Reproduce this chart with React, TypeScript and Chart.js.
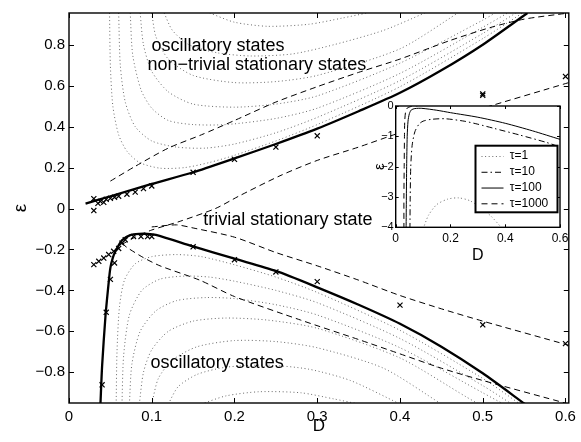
import React, { useEffect, useRef } from "react";
import { Chart, registerables } from "chart.js";

Chart.register(...registerables);

type P = [number, number];
const FONT = '"Liberation Sans", Arial, Helvetica, sans-serif';

// ---------- ticks ----------
const xTicks = [0, 0.1, 0.2, 0.3, 0.4, 0.5, 0.6];
const yTicks = [-0.8, -0.6, -0.4, -0.2, 0, 0.2, 0.4, 0.6, 0.8];
const insetXTicks = [0, 0.2, 0.4, 0.6];
const insetYTicks = [-4, -3, -2, -1, 0];

// ---------- main chart: thick boundaries ----------
const upperSolid: P[] = [
  [0.02, 0.024], [0.05, 0.06], [0.1, 0.12], [0.15, 0.177], [0.2, 0.245], [0.25, 0.315],
  [0.3, 0.39], [0.35, 0.475], [0.4, 0.565], [0.45, 0.675], [0.5, 0.8], [0.554, 0.955],
];
const lowerSolid: P[] = [
  [0.038, -0.955], [0.04, -0.77], [0.044, -0.53], [0.048, -0.36], [0.05, -0.29], [0.053, -0.24],
  [0.056, -0.21], [0.064, -0.155], [0.074, -0.13], [0.085, -0.124], [0.095, -0.124], [0.105, -0.129],
  [0.15, -0.185], [0.2, -0.245], [0.25, -0.305], [0.3, -0.385], [0.35, -0.47], [0.4, -0.563],
  [0.45, -0.675], [0.5, -0.805], [0.551, -0.955],
];

// ---------- main chart: crosses ----------
const upperCrosses: P[] = [
  [0.03, 0.048], [0.03, -0.01], [0.035, 0.025], [0.038, 0.035], [0.042, 0.03], [0.045, 0.045],
  [0.05, 0.05], [0.055, 0.055], [0.06, 0.06], [0.07, 0.07], [0.08, 0.08], [0.09, 0.097],
  [0.1, 0.11], [0.15, 0.177], [0.2, 0.24], [0.25, 0.3], [0.3, 0.355], [0.5, 0.56], [0.5, 0.553],
  [0.6, 0.645],
];
const lowerCrosses: P[] = [
  [0.03, -0.274], [0.036, -0.258], [0.042, -0.242], [0.048, -0.225], [0.054, -0.209], [0.06, -0.195],
  [0.04, -0.861], [0.045, -0.507], [0.05, -0.346], [0.055, -0.266], [0.064, -0.169], [0.068, -0.153],
  [0.078, -0.137], [0.087, -0.137], [0.095, -0.137], [0.1, -0.137], [0.15, -0.187], [0.2, -0.25],
  [0.25, -0.31], [0.3, -0.357], [0.4, -0.472], [0.5, -0.568], [0.6, -0.66],
];

// ---------- main chart: dashed curves ----------
const dashedUpperA: P[] = [
  [0.05, 0.134], [0.08, 0.206], [0.12, 0.295], [0.16, 0.36], [0.2, 0.43], [0.25, 0.52],
  [0.3, 0.595], [0.35, 0.665], [0.4, 0.73], [0.46, 0.82], [0.51, 0.885], [0.55, 0.925], [0.604, 0.955],
];
const dashedUpperB: P[] = [
  [0.064, -0.175], [0.08, -0.14], [0.1, -0.105], [0.133, -0.064], [0.177, 0.0], [0.205, 0.06],
  [0.255, 0.16], [0.3, 0.235], [0.35, 0.3], [0.4, 0.37], [0.5, 0.49], [0.604, 0.615],
];
const dashedLowerA: P[] = [
  [0.1, -0.09], [0.13, -0.08], [0.15, -0.095], [0.2, -0.14], [0.25, -0.215], [0.3, -0.28],
  [0.35, -0.35], [0.4, -0.425], [0.45, -0.49], [0.5, -0.55], [0.604, -0.668],
];
const dashedLowerB: P[] = [
  [0.064, -0.17], [0.07, -0.19], [0.09, -0.24], [0.11, -0.28], [0.158, -0.35], [0.2, -0.43],
  [0.28, -0.545], [0.35, -0.64], [0.4, -0.71], [0.45, -0.78], [0.5, -0.84], [0.604, -0.955],
];

// ---------- main chart: dotted contours ----------
const dottedU1: P[] = [[0.049, 0.955], [0.05, 0.7], [0.053, 0.5], [0.06, 0.36], [0.07, 0.28], [0.085, 0.225], [0.11, 0.197], [0.14, 0.2], [0.17, 0.225], [0.2, 0.26], [0.25, 0.33], [0.3, 0.41], [0.4, 0.595], [0.5, 0.83], [0.548, 0.955]];
const dottedU2: P[] = [[0.06, 0.955], [0.062, 0.7], [0.068, 0.52], [0.08, 0.4], [0.1, 0.33], [0.13, 0.3], [0.165, 0.295], [0.2, 0.315], [0.25, 0.37], [0.3, 0.445], [0.4, 0.625], [0.5, 0.855], [0.54, 0.955]];
const dottedU3: P[] = [[0.074, 0.955], [0.077, 0.75], [0.087, 0.58], [0.1, 0.49], [0.12, 0.43], [0.15, 0.41], [0.19, 0.41], [0.25, 0.44], [0.3, 0.49], [0.4, 0.66], [0.5, 0.885], [0.53, 0.955]];
const dottedU4: P[] = [[0.086, 0.955], [0.09, 0.8], [0.1, 0.67], [0.12, 0.57], [0.15, 0.51], [0.2, 0.495], [0.25, 0.51], [0.3, 0.55], [0.4, 0.71], [0.5, 0.92], [0.515, 0.955]];
const dottedU5: P[] = [[0.1, 0.955], [0.105, 0.84], [0.12, 0.73], [0.15, 0.65], [0.2, 0.615], [0.25, 0.62], [0.3, 0.65], [0.4, 0.78], [0.47, 0.955]];
const dottedU6: P[] = [[0.115, 0.955], [0.125, 0.87], [0.145, 0.8], [0.18, 0.76], [0.22, 0.745], [0.27, 0.755], [0.32, 0.8], [0.38, 0.87], [0.43, 0.955]];
const dottedU7: P[] = [[0.17, 0.955], [0.2, 0.91], [0.24, 0.89], [0.29, 0.9], [0.33, 0.93], [0.36, 0.955]];
const dottedL1: P[] = [[0.057, -0.955], [0.058, -0.7], [0.061, -0.48], [0.067, -0.35], [0.08, -0.27], [0.1, -0.235], [0.13, -0.225], [0.16, -0.235], [0.2, -0.275], [0.25, -0.335], [0.3, -0.41], [0.4, -0.595], [0.5, -0.83], [0.545, -0.955]];
const dottedL2: P[] = [[0.064, -0.955], [0.066, -0.72], [0.073, -0.52], [0.088, -0.4], [0.11, -0.345], [0.14, -0.33], [0.17, -0.335], [0.2, -0.355], [0.25, -0.4], [0.3, -0.46], [0.4, -0.635], [0.5, -0.865], [0.535, -0.955]];
const dottedL3: P[] = [[0.073, -0.955], [0.076, -0.76], [0.086, -0.6], [0.105, -0.5], [0.13, -0.45], [0.165, -0.435], [0.2, -0.44], [0.25, -0.47], [0.3, -0.52], [0.4, -0.68], [0.5, -0.9], [0.525, -0.955]];
const dottedL4: P[] = [[0.085, -0.955], [0.09, -0.8], [0.1, -0.69], [0.12, -0.6], [0.15, -0.55], [0.19, -0.535], [0.24, -0.545], [0.3, -0.585], [0.4, -0.73], [0.48, -0.92], [0.495, -0.955]];
const dottedL5: P[] = [[0.1, -0.955], [0.108, -0.83], [0.125, -0.74], [0.155, -0.675], [0.2, -0.645], [0.25, -0.65], [0.3, -0.68], [0.38, -0.78], [0.45, -0.955]];
const dottedL6: P[] = [[0.12, -0.955], [0.132, -0.87], [0.155, -0.81], [0.19, -0.775], [0.24, -0.765], [0.29, -0.785], [0.34, -0.84], [0.4, -0.955]];
const dottedL7: P[] = [[0.16, -0.955], [0.19, -0.915], [0.23, -0.895], [0.28, -0.9], [0.32, -0.93], [0.35, -0.955]];
const dottedCurves: P[][] = [
  dottedU1, dottedU2, dottedU3, dottedU4, dottedU5, dottedU6, dottedU7,
  dottedL1, dottedL2, dottedL3, dottedL4, dottedL5, dottedL6, dottedL7,
];

// ---------- region labels ----------
const regionLabels = [
  "oscillatory states",
  "non\u2212trivial stationary states",
  "trivial stationary state",
  "oscillatory states",
];
const regionLabelD = [0.18, 0.227, 0.2645, 0.179];
const regionLabelEps = [0.796, 0.699, -0.055, -0.757];

// ---------- inset ----------
const insetLabels = ["\u03c4=1", "\u03c4=10", "\u03c4=100", "\u03c4=1000"];
const tau1: P[] = [[0.1, -4.05], [0.12, -3.6], [0.15, -3.25], [0.19, -3.07], [0.23, -3.03], [0.27, -3.12], [0.31, -3.35], [0.35, -3.65], [0.39, -4.05]];
const tau10: P[] = [[0.052, -4.05], [0.053, -3], [0.055, -2], [0.06, -1.3], [0.07, -0.85], [0.085, -0.6], [0.1, -0.5], [0.13, -0.44], [0.18, -0.42], [0.25, -0.5], [0.3, -0.6], [0.36, -0.74], [0.45, -0.95], [0.55, -1.2], [0.6, -1.35]];
const tau100: P[] = [[0.038, -4.05], [0.039, -3], [0.04, -2], [0.042, -1], [0.045, -0.5], [0.05, -0.25], [0.057, -0.13], [0.07, -0.085], [0.095, -0.077], [0.15, -0.14], [0.2, -0.22], [0.3, -0.37], [0.4, -0.57], [0.5, -0.82], [0.6, -1.1]];
const tau1000: P[] = [[0.03, -4.05], [0.03, -3], [0.031, -2], [0.032, -1], [0.033, -0.5], [0.036, -0.2], [0.042, -0.07], [0.055, -0.02], [0.08, 0.01]];

const toXY = (pts: P[]) => pts.map(([x, y]) => ({ x, y }));
const fmt = (v: number) => String(Math.round(v * 1000) / 1000).replace("-", "\u2212");

function framePlugin(tickLen: number, lw: number) {
  return {
    id: "frame",
    afterDatasetsDraw(chart: any) {
      const { ctx, chartArea: a, scales } = chart;
      ctx.save();
      ctx.setLineDash([]);
      ctx.strokeStyle = "#000";
      ctx.lineWidth = 1;
      ctx.beginPath();
      scales.x.ticks.forEach((t: any) => {
        const px = Math.round(scales.x.getPixelForValue(t.value)) + 0.5;
        ctx.moveTo(px, a.bottom);
        ctx.lineTo(px, a.bottom - tickLen);
        ctx.moveTo(px, a.top);
        ctx.lineTo(px, a.top + tickLen);
      });
      scales.y.ticks.forEach((t: any) => {
        const py = Math.round(scales.y.getPixelForValue(t.value)) + 0.5;
        ctx.moveTo(a.left, py);
        ctx.lineTo(a.left + tickLen, py);
        ctx.moveTo(a.right, py);
        ctx.lineTo(a.right - tickLen, py);
      });
      ctx.stroke();
      ctx.lineWidth = lw;
      ctx.strokeRect(a.left, a.top, a.right - a.left, a.bottom - a.top);
      ctx.restore();
    },
  };
}

const regionLabelPlugin = {
  id: "regionLabels",
  afterDatasetsDraw(chart: any) {
    const { ctx, scales } = chart;
    ctx.save();
    ctx.fillStyle = "#000";
    ctx.font = `18px ${FONT}`;
    ctx.textAlign = "center";
    ctx.textBaseline = "middle";
    regionLabels.forEach((txt, i) => {
      ctx.fillText(txt, scales.x.getPixelForValue(regionLabelD[i]), scales.y.getPixelForValue(regionLabelEps[i]));
    });
    ctx.restore();
  },
};

const whiteAreaPlugin = {
  id: "whiteArea",
  beforeDraw(chart: any) {
    const { ctx, chartArea: a } = chart;
    ctx.save();
    ctx.fillStyle = "#fff";
    ctx.fillRect(a.left, a.top, a.right - a.left, a.bottom - a.top);
    ctx.restore();
  },
};

const insetLegendPlugin = {
  id: "insetLegend",
  afterDraw(chart: any) {
    const { ctx, chartArea: a } = chart;
    const w = 82;
    const h = 66.6;
    const bx = a.right - 2.5 - w;
    const by = a.bottom - 15 - h;
    ctx.save();
    ctx.fillStyle = "#fff";
    ctx.fillRect(bx, by, w, h);
    ctx.setLineDash([]);
    ctx.lineWidth = 2;
    ctx.strokeStyle = "#000";
    ctx.strokeRect(bx, by, w, h);
    chart.data.datasets.forEach((ds: any, i: number) => {
      const y = by + 10.3 + i * 15.77;
      ctx.setLineDash(ds.borderDash || []);
      ctx.strokeStyle = ds.borderColor;
      ctx.lineWidth = ds.borderWidth;
      ctx.beginPath();
      ctx.moveTo(bx + 6, y + 0.5);
      ctx.lineTo(bx + 28, y + 0.5);
      ctx.stroke();
      ctx.setLineDash([]);
      ctx.fillStyle = "#000";
      ctx.font = `12px ${FONT}`;
      ctx.textAlign = "left";
      ctx.textBaseline = "middle";
      ctx.fillText(ds.label, bx + 34.3, y);
    });
    ctx.restore();
  },
};

const lineDs = (label: string, pts: P[], color: string, width: number, dash: number[], order: number) => ({
  label,
  data: toXY(pts),
  showLine: true,
  borderColor: color,
  backgroundColor: color,
  borderWidth: width,
  borderDash: dash,
  pointRadius: 0,
  tension: 0.25,
  fill: false,
  order,
});

const crossDs = (label: string, pts: P[]) => ({
  label,
  data: toXY(pts),
  showLine: false,
  pointStyle: "crossRot",
  pointRadius: 3.6,
  pointBorderWidth: 1.2,
  borderColor: "#000",
  backgroundColor: "#000",
  order: 0,
});

export default function App() {
  const mainRef = useRef<HTMLCanvasElement | null>(null);
  const insetRef = useRef<HTMLCanvasElement | null>(null);

  useEffect(() => {
    const tickFont = { family: FONT, size: 15 };
    const main = new Chart(mainRef.current as HTMLCanvasElement, {
      type: "scatter",
      data: {
        datasets: [
          crossDs("upper crosses", upperCrosses),
          crossDs("lower crosses", lowerCrosses),
          lineDs("upper boundary", upperSolid, "#000", 2.3, [], 1),
          lineDs("lower boundary", lowerSolid, "#000", 2.3, [], 1),
          lineDs("dashed upper A", dashedUpperA, "#000", 1, [6, 4], 2),
          lineDs("dashed upper B", dashedUpperB, "#000", 1, [6, 4], 2),
          lineDs("dashed lower A", dashedLowerA, "#000", 1, [6, 4], 2),
          lineDs("dashed lower B", dashedLowerB, "#000", 1, [6, 4], 2),
          ...dottedCurves.map((c, i) => lineDs("dotted " + i, c, "#6a6a6a", 1, [1, 2.6], 3)),
        ] as any,
      },
      options: {
        animation: false,
        responsive: false,
        maintainAspectRatio: false,
        layout: { padding: { left: 0, top: 9, right: 12, bottom: 0 } },
        plugins: { legend: { display: false }, tooltip: { enabled: false } },
        scales: {
          x: {
            type: "linear",
            min: 0,
            max: 0.604,
            grid: { display: false, drawTicks: false },
            border: { display: false },
            afterBuildTicks: (s: any) => {
              s.ticks = xTicks.map((v) => ({ value: v }));
            },
            afterFit: (s: any) => {
              s.height = 39;
            },
            ticks: { font: tickFont, color: "#000", padding: 5, maxRotation: 0, autoSkip: false, callback: (v: any) => fmt(Number(v)) },
            title: { display: true, text: "D", color: "#000", font: { family: FONT, size: 17 }, padding: { top: 0, bottom: 5 } },
          },
          y: {
            type: "linear",
            min: -0.95,
            max: 0.955,
            grid: { display: false, drawTicks: false },
            border: { display: false },
            afterBuildTicks: (s: any) => {
              s.ticks = yTicks.map((v) => ({ value: v }));
            },
            afterFit: (s: any) => {
              s.width = 69;
            },
            ticks: { font: tickFont, color: "#000", padding: 4, autoSkip: false, callback: (v: any) => fmt(Number(v)) },
            title: { display: true, text: "\u03b5", color: "#000", font: { family: FONT, size: 19 }, padding: { top: 9, bottom: 0 } },
          },
        },
      } as any,
      plugins: [regionLabelPlugin, framePlugin(5, 1.4)],
    });

    const insetXFont = { family: FONT, size: 12 };
    const insetYFont = { family: FONT, size: 11 };
    const inset = new Chart(insetRef.current as HTMLCanvasElement, {
      type: "scatter",
      data: {
        datasets: [
          { ...lineDs(insetLabels[0], tau1, "#6a6a6a", 1, [1, 2.6], 0) },
          { ...lineDs(insetLabels[1], tau10, "#000", 1, [6, 3, 1.5, 3], 0) },
          { ...lineDs(insetLabels[2], tau100, "#000", 1, [], 0) },
          { ...lineDs(insetLabels[3], tau1000, "#000", 1, [6, 4], 0) },
        ] as any,
      },
      options: {
        animation: false,
        responsive: false,
        maintainAspectRatio: false,
        layout: { padding: { left: 0, top: 10, right: 15, bottom: 0 } },
        plugins: { legend: { display: false }, tooltip: { enabled: false } },
        scales: {
          x: {
            type: "linear",
            min: 0,
            max: 0.6,
            grid: { display: false, drawTicks: false },
            border: { display: false },
            afterBuildTicks: (s: any) => {
              s.ticks = insetXTicks.map((v) => ({ value: v }));
            },
            afterFit: (s: any) => {
              s.height = 38.7;
            },
            ticks: { font: insetXFont, color: "#000", padding: 4, maxRotation: 0, autoSkip: false, callback: (v: any) => fmt(Number(v)) },
            title: { display: true, text: "D", color: "#000", font: { family: FONT, size: 16 }, padding: { top: 0, bottom: 1 } },
          },
          y: {
            type: "linear",
            min: -4,
            max: 0,
            grid: { display: false, drawTicks: false },
            border: { display: false },
            afterBuildTicks: (s: any) => {
              s.ticks = insetYTicks.map((v) => ({ value: v }));
            },
            afterFit: (s: any) => {
              s.width = 29.7;
            },
            ticks: { font: insetYFont, color: "#000", padding: 2, autoSkip: false, callback: (v: any) => fmt(Number(v)) },
            title: { display: true, text: "\u03b5", color: "#000", font: { family: FONT, size: 15 }, padding: { top: 4.5, bottom: 0 } },
          },
        },
      } as any,
      plugins: [whiteAreaPlugin, framePlugin(3, 1.4), insetLegendPlugin],
    });

    return () => {
      main.destroy();
      inset.destroy();
    };
  }, []);

  return (
    <div style={{ position: "absolute", left: 0, top: 0, width: 581, height: 442, background: "#fff" }}>
      <canvas ref={mainRef} width={581} height={442} style={{ position: "absolute", left: 0, top: 0, width: 581, height: 442 }} />
      <canvas ref={insetRef} width={209} height={170} style={{ position: "absolute", left: 366, top: 96, width: 209, height: 170 }} />
    </div>
  );
}
